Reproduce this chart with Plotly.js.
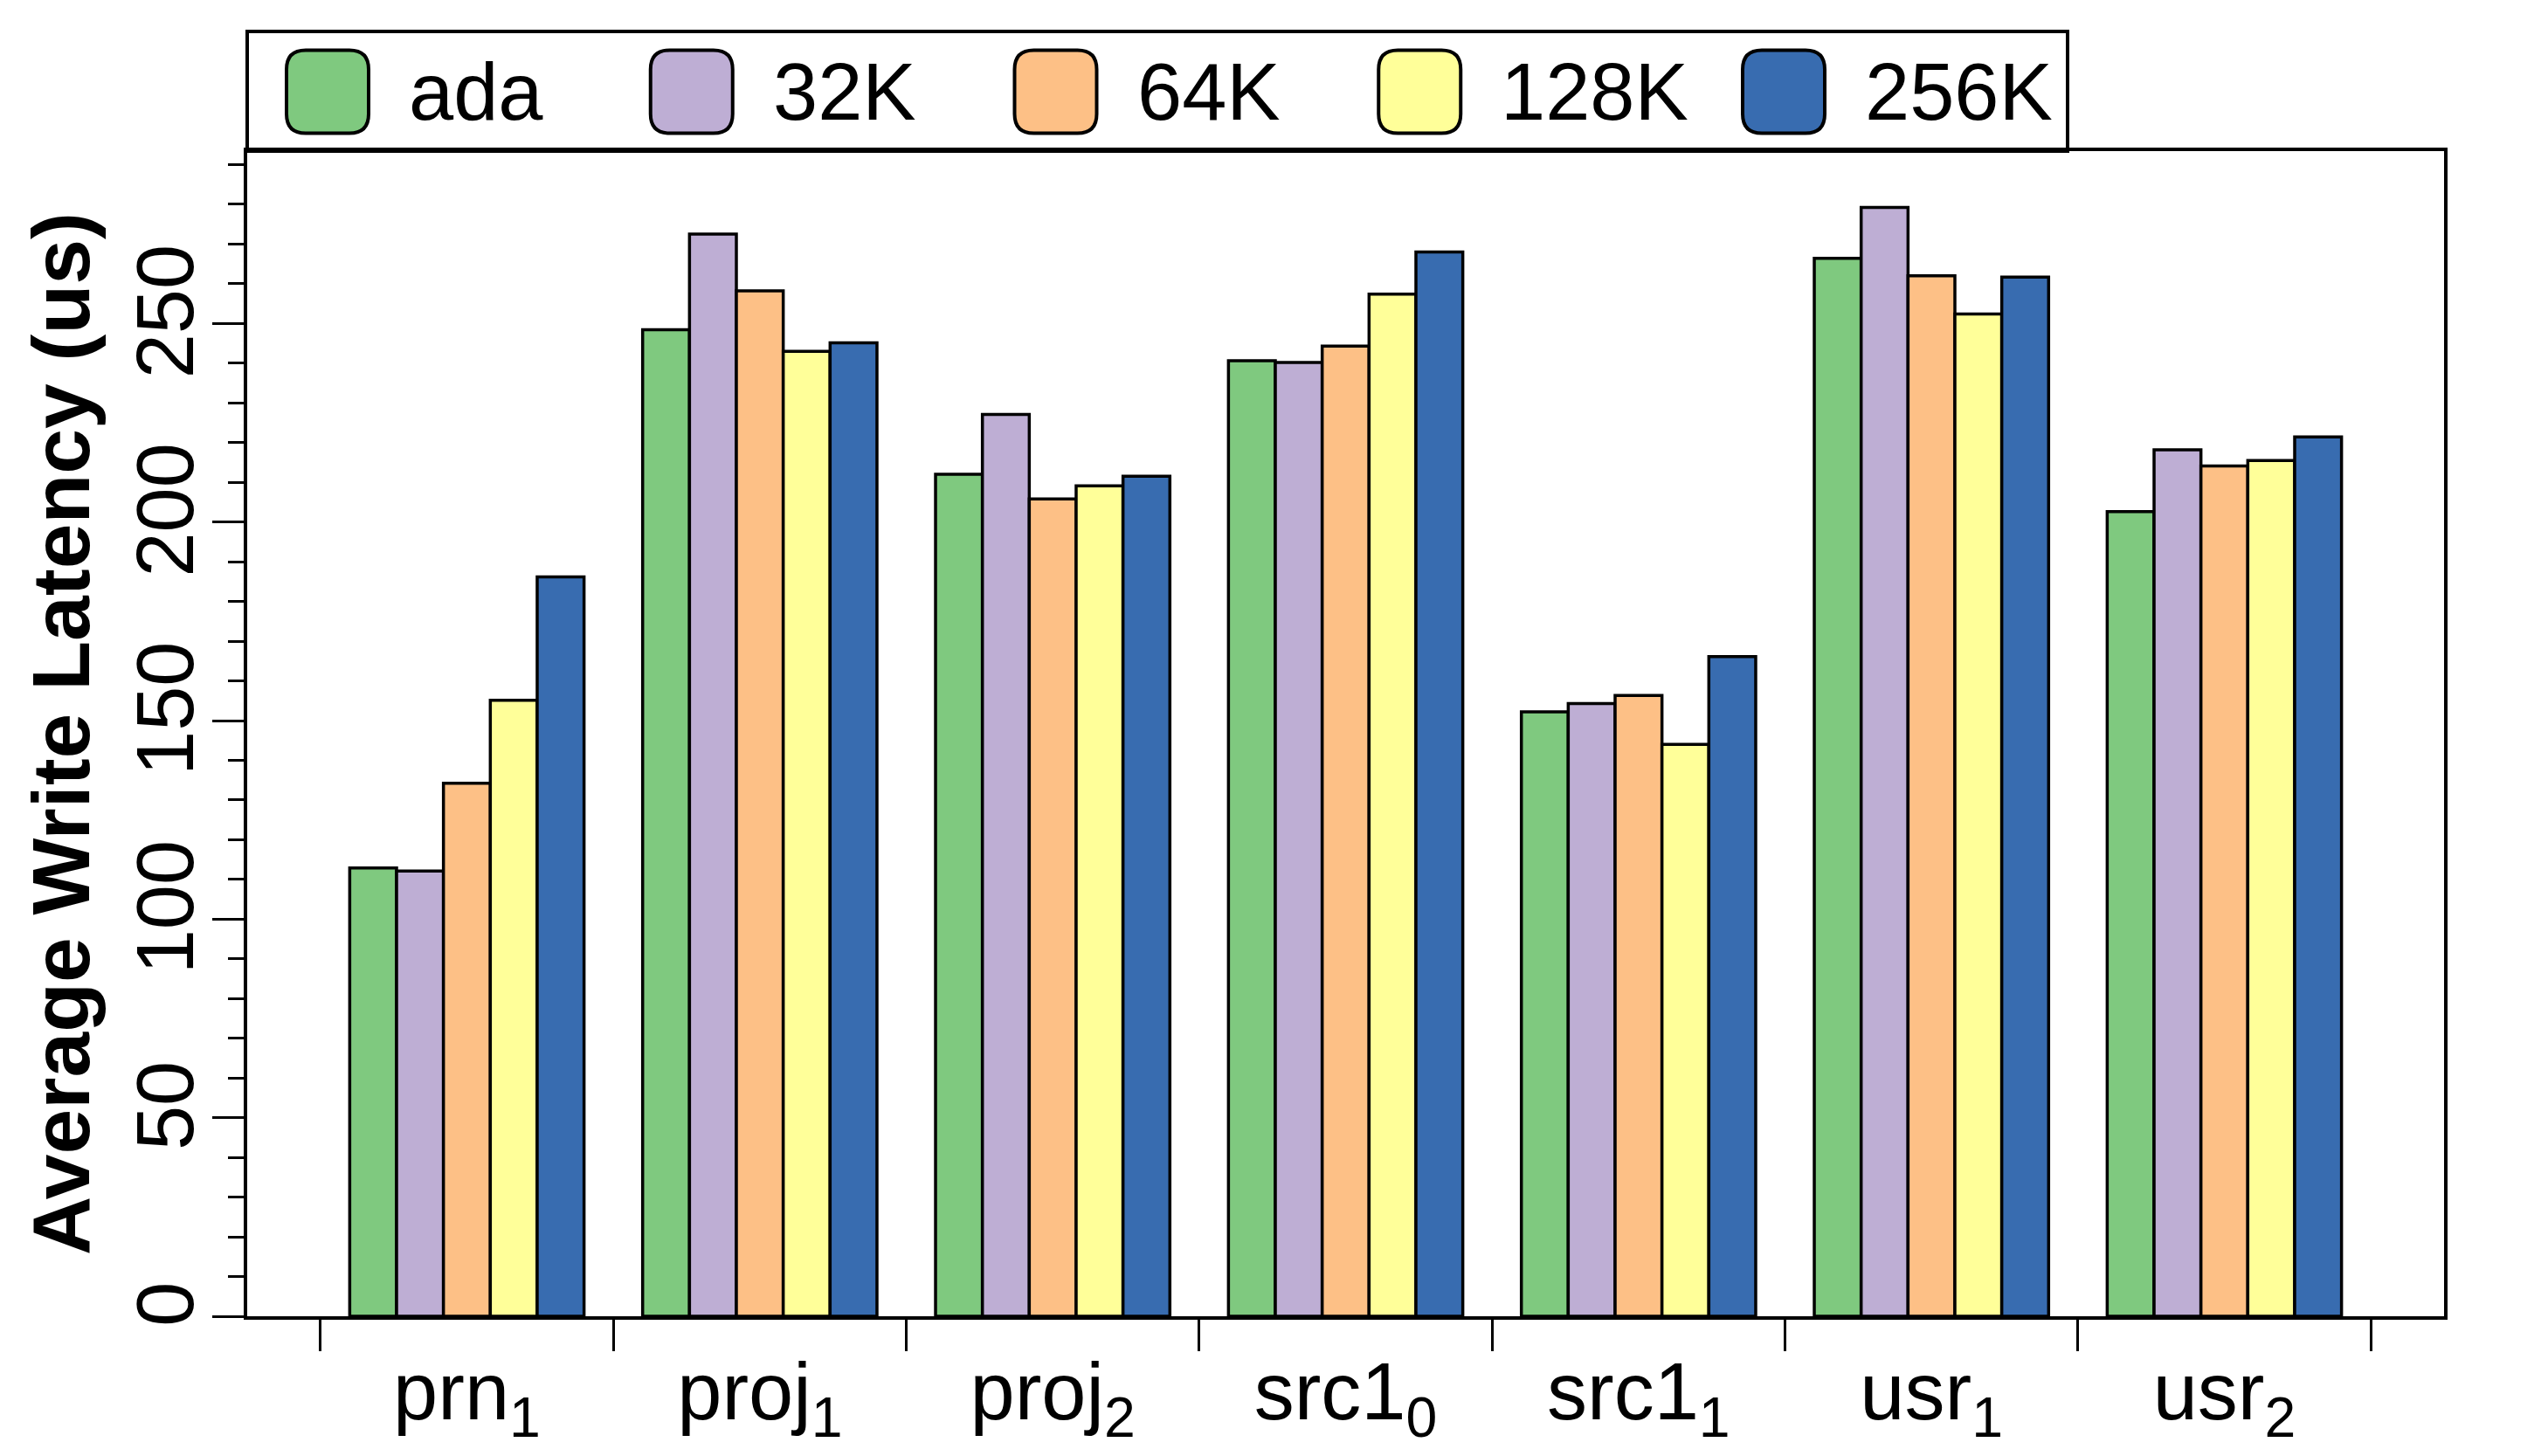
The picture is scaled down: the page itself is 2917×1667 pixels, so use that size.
<!DOCTYPE html>
<html>
<head>
<meta charset="utf-8">
<script src="https://cdn.plot.ly/plotly-3.0.1.min.js"></script>
<style>
  html, body { margin: 0; padding: 0; background: #fff; }
  #chart { width: 2917px; height: 1667px; }
</style>
</head>
<body>
<div id="chart"></div>
<script>
// Average write latency per trace, for each chunk size setting.
const categories = ["prn<sub>1</sub>", "proj<sub>1</sub>", "proj<sub>2</sub>", "src1<sub>0</sub>",
                    "src1<sub>1</sub>", "usr<sub>1</sub>", "usr<sub>2</sub>"];

const seriesNames = ["ada", "32K", "64K", "128K", "256K"];

const ada   = [112.9, 248.4, 212.0, 240.6, 152.2, 266.4, 202.6];
const k32   = [112.1, 272.5, 227.1, 240.2, 154.3, 279.2, 218.2];
const k64   = [134.2, 258.2, 205.8, 244.3, 156.3, 262.0, 214.1];
const k128  = [155.1, 243.0, 209.1, 257.4, 144.0, 252.4, 215.5];
const k256  = [186.2, 245.1, 211.5, 268.0, 166.1, 261.7, 221.4];

const yTicks = [0, 50, 100, 150, 200, 250];

const COLORS = ["#7fc97f", "#beaed4", "#fdc086", "#ffff99", "#386cb0"];
const FONT = "'Liberation Sans', Arial, Helvetica, sans-serif";
const W = 2917, H = 1667;
const MARGIN = { l: 283, r: 119, t: 173, b: 160 };
const PLOT_W = W - MARGIN.l - MARGIN.r;
const PLOT_H = H - MARGIN.t - MARGIN.b;

const values = [ada, k32, k64, k128, k256];

const traces = seriesNames.map((name, i) => ({
  type: "bar",
  name,
  x: categories,
  y: values[i],
  marker: { color: COLORS[i], line: { color: "#000", width: 3.5 } },
  showlegend: false,
}));

// ---- hand-built legend: box + rounded swatches + labels (pixel based) ----
const px = (v) => v / PLOT_W;            // horizontal pixels -> paper
const py = (v) => v / PLOT_H;            // vertical pixels -> paper
const LEG_RIGHT = 2367 - MARGIN.l;       // legend box right edge, px from plot left
const LEG_TOP = MARGIN.t - 36;           // legend box height above plot
const SW_X0 = 375 - MARGIN.l;            // first swatch centre
const STEP = 416.75;
const SW_Y = MARGIN.t - 105;             // swatch centre above plot top

function roundedRect(w, h, r) {
  const x = w / 2, y = h / 2;
  return `M${-x + r},${-y} H${x - r} Q${x},${-y} ${x},${-y + r} V${y - r} Q${x},${y} ${x - r},${y}` +
         ` H${-x + r} Q${-x},${y} ${-x},${y - r} V${-y + r} Q${-x},${-y} ${-x + r},${-y} Z`;
}

const shapes = [
  {
    type: "rect", xref: "paper", yref: "paper",
    x0: 0, x1: px(LEG_RIGHT), y0: 1, y1: 1 + py(LEG_TOP),
    line: { color: "#000", width: 4 }, fillcolor: "rgba(0,0,0,0)",
  },
  ...seriesNames.map((_, i) => ({
    type: "path", xref: "paper", yref: "paper",
    xsizemode: "pixel", ysizemode: "pixel",
    xanchor: px(SW_X0 + i * STEP), yanchor: 1 + py(SW_Y),
    path: roundedRect(94, 95, 22),
    fillcolor: COLORS[i],
    line: { color: "#000", width: 4 },
  })),
];

const annotations = seriesNames.map((name, i) => ({
  xref: "paper", yref: "paper",
  x: px(SW_X0 + i * STEP + 47 + 44), y: 1 + py(SW_Y),
  xanchor: "left", yanchor: "middle",
  text: name, showarrow: false,
  font: { family: FONT, size: 92, color: "#000" },
}));

const layout = {
  width: W, height: H,
  margin: MARGIN,
  paper_bgcolor: "#fff",
  plot_bgcolor: "#fff",
  font: { family: FONT, size: 92, color: "#000" },
  barmode: "group",
  bargap: 0.2,
  bargroupgap: 0,
  showlegend: false,
  xaxis: {
    type: "category",
    range: [-0.75, 6.75],
    tickson: "boundaries",
    ticks: "outside",
    ticklen: 36,
    tickwidth: 3,
    tickcolor: "#000",
    ticklabelstandoff: 4,
    showline: true, mirror: true, linecolor: "#000", linewidth: 4,
    showgrid: false, zeroline: false,
    tickfont: { family: FONT, size: 92 },
  },
  yaxis: {
    range: [0, 293.4],
    tickvals: yTicks,
    ticktext: yTicks.map(String),
    tickangle: -90,
    ticks: "outside",
    ticklen: 36,
    tickwidth: 3,
    tickcolor: "#000",
    ticklabelstandoff: -15,
    minor: { dtick: 10, ticks: "outside", ticklen: 18, tickwidth: 3, tickcolor: "#000", showgrid: false },
    showline: true, mirror: true, linecolor: "#000", linewidth: 4,
    showgrid: false, zeroline: false,
    tickfont: { family: FONT, size: 92 },
    title: {
      text: "<b>Average Write Latency (us)</b>",
      font: { family: FONT, size: 93 },
      standoff: 6,
    },
  },
  shapes,
  annotations,
};

Plotly.newPlot("chart", traces, layout, { displayModeBar: false, staticPlot: true });
</script>
</body>
</html>
